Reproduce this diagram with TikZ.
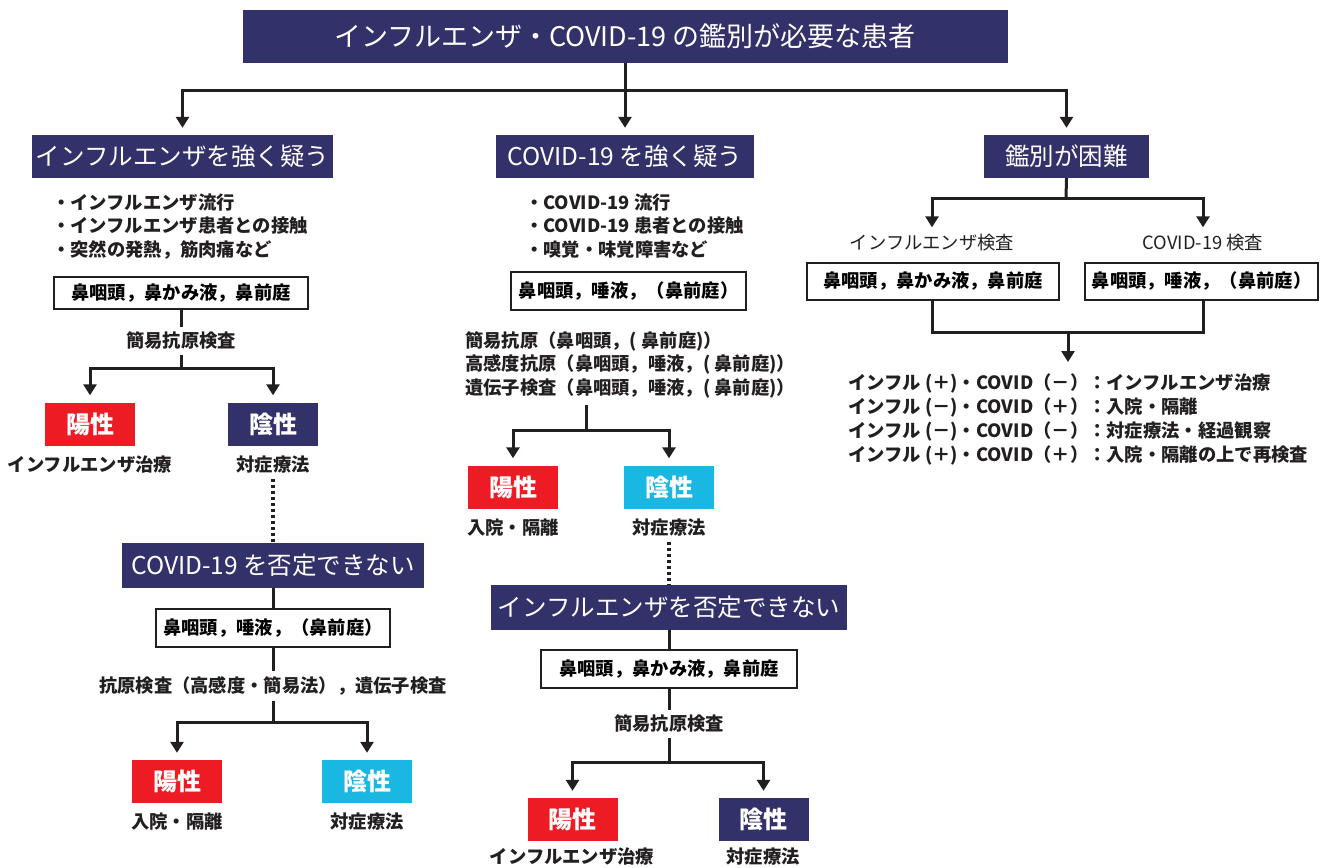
\documentclass[tikz,border=0pt]{standalone}
\usepackage{fontspec}
\setmainfont{Noto Sans CJK JP}
\usetikzlibrary{arrows.meta}
\definecolor{navy}{HTML}{32316A}
\definecolor{rd}{HTML}{ED1C24}
\definecolor{cy}{HTML}{1AB7E2}
\definecolor{lk}{HTML}{231F20}
\tikzset{
  ln/.style={line width=3pt, draw=lk},
  arr/.style={ln, -{Triangle[length=11pt,width=13pt]}, shorten >=7pt},
  dotln/.style={line width=3.5pt, draw=lk, dash pattern=on 3pt off 3pt},
  hd/.style={fill=navy, text=white, inner sep=0pt, font=\fontsize{24.5}{28}\selectfont},
  wb/.style={draw=lk, line width=1.3pt, fill=white, inner sep=0pt, font=\bfseries\fontsize{18.3}{21}\selectfont},
  tx/.style={inner xsep=0pt, inner ysep=5pt, text=lk, font=\bfseries\fontsize{18.3}{21}\selectfont},
  txr/.style={tx, font=\fontsize{18.3}{21}\selectfont},
  lt/.style={tx, anchor=west, inner ysep=2pt},
  res/.style={minimum width=90pt, minimum height=43pt, inner sep=0pt, text=white, font=\bfseries\fontsize{24}{28}\selectfont},
  posbox/.style={res, fill=rd},
  negnavy/.style={res, fill=navy},
  negcy/.style={res, fill=cy},
}
\begin{document}
\begin{tikzpicture}[x=1pt,y=-1pt]
\useasboundingbox (0,0) rectangle (1327,867);
% title
\node[hd, minimum width=765pt, minimum height=53pt, font=\fontsize{27}{31}\selectfont] (T) at (625,36.5) {インフルエンザ・COVID-19 の鑑別が必要な患者};
\node[hd, minimum width=301pt, minimum height=43pt] (A) at (182.5,156.5) {インフルエンザを強く疑う};
\node[hd, minimum width=258pt, minimum height=43pt] (B) at (625,156.5) {COVID-19 を強く疑う};
\node[hd, minimum width=165pt, minimum height=43pt] (C) at (1066.5,156.5) {鑑別が困難};
\coordinate (j0) at (625,90);
\draw[ln] (T.south) -- (j0);
\draw[arr] (j0) -| (A);
\draw[arr] (j0) -- (B);
\draw[arr] (j0) -| (C);

% ---------- column A ----------
\node[lt] (a1) at (52,203) {・インフルエンザ流行};
\node[lt] (a2) at (52,226) {・インフルエンザ患者との接触};
\node[lt] (a3) at (52,250) {・突然の発熱，筋肉痛など};
\node[wb, minimum width=254pt, minimum height=32pt] (wA) at (181,293) {鼻咽頭，鼻かみ液，鼻前庭};
\node[tx] (sA) at (181,341) {簡易抗原検査};
\coordinate (jA) at (181,368);
\draw[ln] (wA.south) -- (sA.north);
\draw[ln] (sA.south) -- (jA);
\node[posbox] (pA) at (90,424) {陽性};
\node[negnavy] (nA) at (273,424) {陰性};
\draw[arr] (jA) -| (pA);
\draw[arr] (jA) -| (nA);
\node[tx] (lpA) at (90,465) {インフルエンザ治療};
\node[tx] (lnA) at (273,465) {対症療法};
\node[hd, minimum width=302pt, minimum height=45pt] (DA) at (273,565.5) {COVID-19 を否定できない};
\draw[dotln] (lnA.south) -- (DA.north);
\node[wb, minimum width=234pt, minimum height=38pt] (wA2) at (273,628) {鼻咽頭，唾液，（鼻前庭）};
\draw[ln] (DA.south) -- (wA2.north);
\node[tx] (sA2) at (273,686) {抗原検査（高感度・簡易法），遺伝子検査};
\draw[ln] (wA2.south) -- (sA2.north);
\coordinate (jA2) at (273,722);
\draw[ln] (sA2.south) -- (jA2);
\node[posbox] (pA2) at (177,781.5) {陽性};
\node[negcy] (nA2) at (367,781.5) {陰性};
\draw[arr] (jA2) -| (pA2);
\draw[arr] (jA2) -| (nA2);
\node[tx] (lpA2) at (177,822) {入院・隔離};
\node[tx] (lnA2) at (367,822) {対症療法};

% ---------- column B ----------
\node[lt] (b1) at (525,203) {・COVID-19 流行};
\node[lt] (b2) at (525,226) {・COVID-19 患者との接触};
\node[lt] (b3) at (525,250) {・嗅覚・味覚障害など};
\node[wb, minimum width=235pt, minimum height=38pt] (wB) at (628.5,291) {鼻咽頭，唾液，（鼻前庭）};
\node[lt] (t1) at (465,341) {簡易抗原（鼻咽頭，( 鼻前庭)）};
\node[lt] (t2) at (465,364) {高感度抗原（鼻咽頭，唾液，( 鼻前庭)）};
\node[lt] (t3) at (465,388) {遺伝子検査（鼻咽頭，唾液，( 鼻前庭)）};
\coordinate (bt) at (586,405);
\coordinate (jB) at (586,430);
\draw[ln] (bt) -- (jB);
\node[posbox] (pB) at (513,487) {陽性};
\node[negcy] (nB) at (669,487) {陰性};
\draw[arr] (jB) -| (pB);
\draw[arr] (jB) -| (nB);
\node[tx] (lpB) at (513,528) {入院・隔離};
\node[tx] (lnB) at (669,528) {対症療法};
\node[hd, minimum width=356pt, minimum height=45pt] (DB) at (669,607.5) {インフルエンザを否定できない};
\draw[dotln] (lnB.south) -- (DB.north);
\node[wb, minimum width=256pt, minimum height=38pt] (wB2) at (669,669) {鼻咽頭，鼻かみ液，鼻前庭};
\draw[ln] (DB.south) -- (wB2.north);
\node[tx] (sB2) at (669,724) {簡易抗原検査};
\draw[ln] (wB2.south) -- (sB2.north);
\coordinate (jB2) at (669,762);
\draw[ln] (sB2.south) -- (jB2);
\node[posbox] (pB2) at (572.5,819.5) {陽性};
\node[negnavy] (nB2) at (763.5,819.5) {陰性};
\draw[arr] (jB2) -| (pB2);
\draw[arr] (jB2) -| (nB2);
\node[tx] (lpB2) at (572,857) {インフルエンザ治療};
\node[tx] (lnB2) at (763,857) {対症療法};

% ---------- column C ----------
\coordinate (jC) at (1066,198);
\draw[ln] (C.south) -- (jC);
\node[txr] (cL) at (932,243) {インフルエンザ検査};
\node[txr] (cR) at (1203,243) {COVID-19 検査};
\draw[arr, shorten >=2pt] (jC) -| (cL);
\draw[arr, shorten >=2pt] (jC) -| (cR);
\node[wb, minimum width=252pt, minimum height=37pt] (wC1) at (933,281.5) {鼻咽頭，鼻かみ液，鼻前庭};
\node[wb, minimum width=233pt, minimum height=37pt] (wC2) at (1201.5,281.5) {鼻咽頭，唾液，（鼻前庭）};
\coordinate (jC1) at (932,332);
\coordinate (jC3) at (1203,332);
\coordinate (jC2) at (1068,332);
\draw[ln] (wC1.south -| jC1) -- (jC1) -- (jC3) -- (wC2.south -| jC3);
\node[lt] (r1) at (848,383) {インフル (＋)・COVID（－）：インフルエンザ治療};
\node[lt] (r2) at (848,407) {インフル (－)・COVID（＋）：入院・隔離};
\node[lt] (r3) at (848,431) {インフル (－)・COVID（－）：対症療法・経過観察};
\node[lt] (r4) at (848,455) {インフル (＋)・COVID（＋）：入院・隔離の上で再検査};
\draw[arr, shorten >=9pt] (jC2) -- (jC2 |- r1.north);
\end{tikzpicture}
\end{document}
